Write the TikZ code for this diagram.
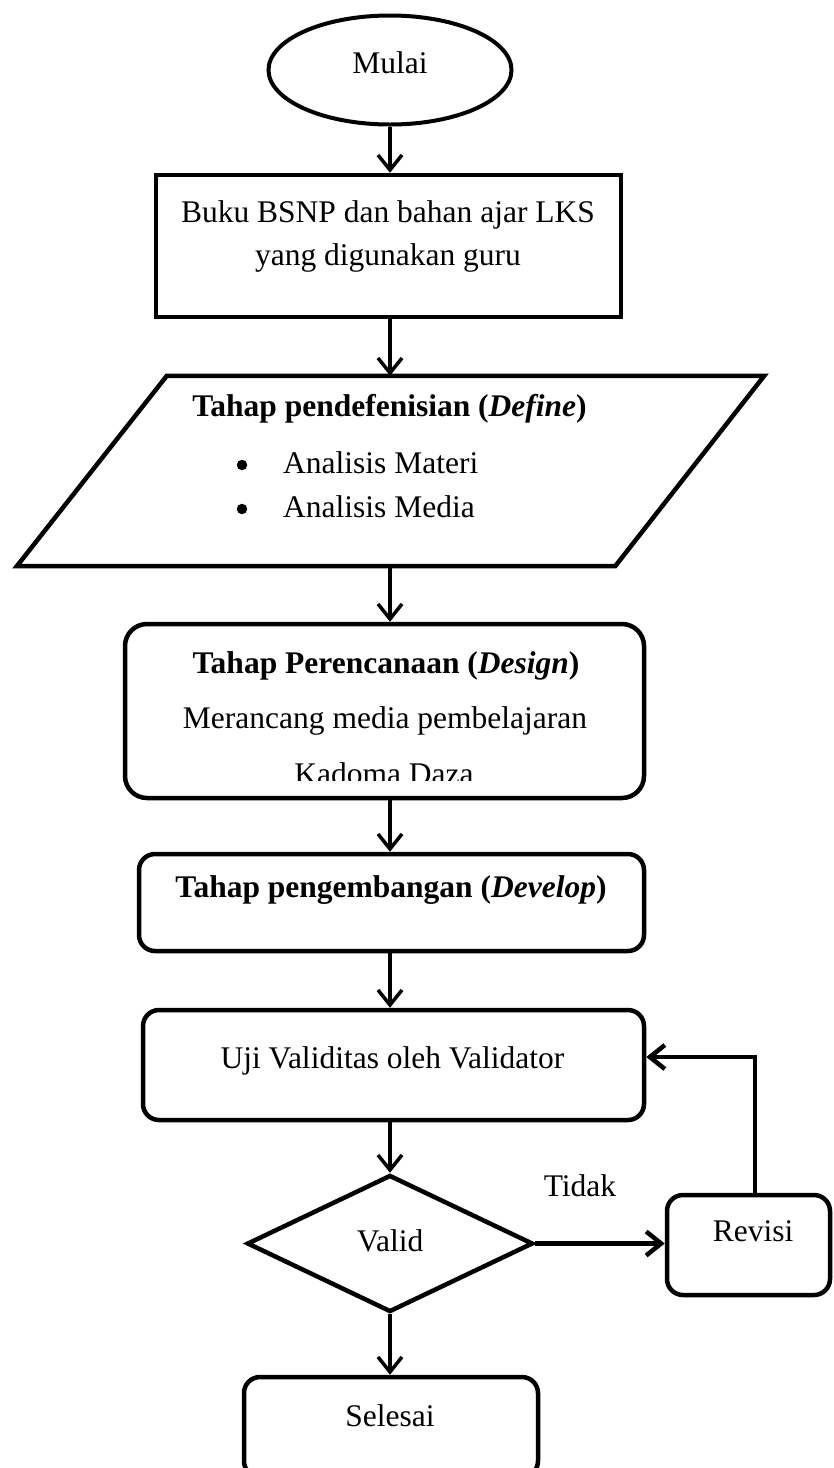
\documentclass[tikz,border=0pt]{standalone}
\usepackage{fontspec}
\setmainfont{Liberation Serif}
\usetikzlibrary{arrows.meta,positioning,shapes.geometric}
\tikzset{
  shp/.style={draw=black,line width=4.5pt,fill=white,inner sep=0pt},
  kotak/.style={shp,rectangle},
  bulat/.style={shp,rectangle,rounded corners=16pt},
  lonjong/.style={shp,ellipse,line width=4pt},
  ketupat/.style={shp,diamond},
  titik/.style={circle,fill=black,inner sep=0pt,minimum size=10.5pt},
  txt/.style={inner sep=0pt,text height=21pt,text depth=0pt,font=\fontsize{31.5}{38}\selectfont},
  tebal/.style={txt,font=\fontsize{31.5}{38}\selectfont\bfseries},
  ar/.style={-{Straight Barb[length=15pt,width=24pt]},line width=3.5pt},
  arb/.style={ar,line width=4.5pt}
}
\begin{document}
\begin{tikzpicture}[x=1pt,y=-1pt]
\useasboundingbox (0,0) rectangle (834,1468);
\clip (0,0) rectangle (834,1468);
% bentuk bagan
\node[lonjong,minimum width=243pt,minimum height=109pt] (mulai) at (390,70) {};
\node[kotak,minimum width=465pt,minimum height=142pt] (buku) at (388.5,246) {};
\node[inner sep=0pt,minimum width=747pt,minimum height=190pt] (define) at (390.5,471) {};
\draw[shp] (define.south west) -- ([xshift=150pt]define.north west) -- (define.north east)
  -- ([xshift=-149pt]define.south east) -- cycle;
\node[bulat,rounded corners=22pt,minimum width=519pt,minimum height=174pt] (design) at (384.5,711) {};
\node[bulat,minimum width=505pt,minimum height=97pt] (develop) at (391.5,902.5) {};
\node[bulat,minimum width=501pt,minimum height=110pt] (uji) at (393.5,1065) {};
\node[ketupat,minimum width=286pt,minimum height=137pt] (valid) at (390,1243.5) {};
\node[bulat,minimum width=163pt,minimum height=100pt] (revisi) at (748.5,1245) {};
\node[bulat,minimum width=294pt,minimum height=100pt] (selesai) at (391,1427) {};
% teks
\node[txt] (mulai-t) at (390,63) {Mulai};
\node[txt] (buku-t1) at (388,212) {Buku BSNP dan bahan ajar LKS};
\node[txt] (buku-t2) at (388,255) {yang digunakan guru};
\node[tebal] (define-t) at (389.5,406) {Tahap pendefenisian (\textit{Define})};
\node[titik] (materi-b) at (242,465) {};
\node[txt,anchor=west] (materi-t) at (283,463) {Analisis Materi};
\node[titik] (media-b) at (242,509) {};
\node[txt,anchor=west] (media-t) at (283,507) {Analisis Media};
\node[tebal] (design-t1) at (386,663) {Tahap Perencanaan (\textit{Design})};
\node[txt] (design-t2) at (385,718) {Merancang media pembelajaran};
\begin{scope}
\clip (125,624) rectangle (644,780);
\node[txt] (design-t3) at (384,774) {Kadoma Daza};
\end{scope}
\node[tebal] (develop-t) at (391,887) {Tahap pengembangan (\textit{Develop})};
\node[txt] (uji-t) at (392.5,1058) {Uji Validitas oleh Validator};
\node[txt] (valid-t) at (390,1241) {Valid};
\node[txt] (tidak-t) at (580,1186) {Tidak};
\node[txt] (revisi-t) at (753,1231) {Revisi};
\node[txt] (selesai-t) at (390,1416) {Selesai};
% panah
\draw[ar] (mulai.south) -- (mulai.south |- buku.north);
\draw[ar] (mulai |- buku.south) -- (mulai |- define.north);
\draw[ar] (mulai |- define.south) -- (mulai |- design.north);
\draw[ar] (mulai |- design.south) -- (mulai |- develop.north);
\draw[ar] (mulai |- develop.south) -- (mulai |- uji.north);
\draw[ar] (mulai |- uji.south) -- (valid.north);
\draw[ar] (valid.south) -- (valid.south |- selesai.north);
\draw[arb] (valid.east) -- (valid.east -| revisi.west);
\draw[arb] ([xshift=6.5pt]revisi.north) |- ([yshift=8pt]uji.east);
\end{tikzpicture}
\end{document}
